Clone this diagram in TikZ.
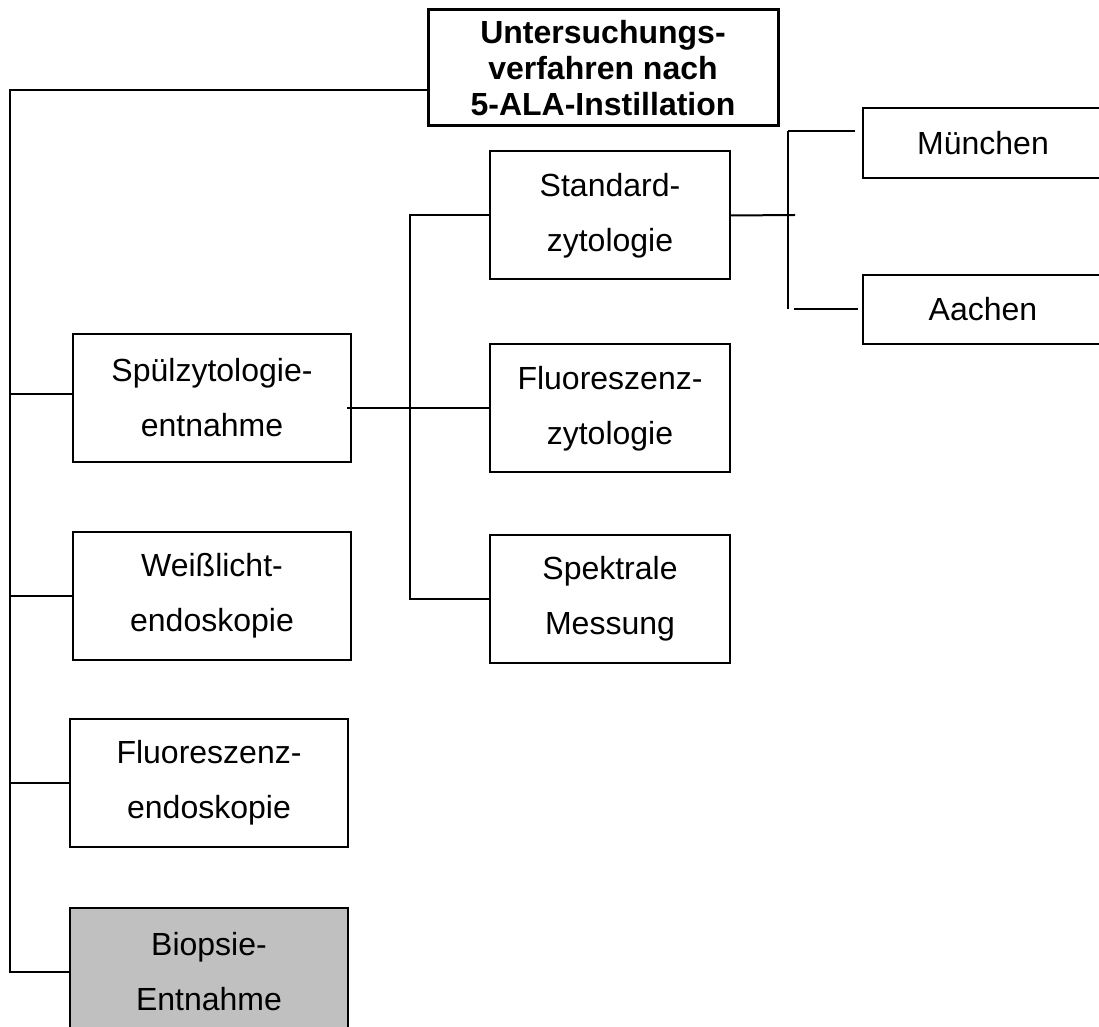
\documentclass[tikz,border=0pt]{standalone}
\usepackage{fontspec}
\setmainfont{Liberation Sans}
\usetikzlibrary{positioning}
\definecolor{biopsiegrau}{RGB}{192,192,192}

\begin{document}
\begin{tikzpicture}[x=0.5pt,y=-0.5pt,
  kasten/.style={draw,line width=1pt,align=center,inner sep=0pt,minimum width=139pt,minimum height=64pt,font=\fontsize{16}{27.5}\selectfont},
  ort/.style={kasten,minimum width=120pt,minimum height=35pt},
  linie/.style={draw,line width=1pt}]
\useasboundingbox (0,0) rectangle (1099,1027);
\node[kasten,line width=1.5pt,minimum width=175pt,minimum height=58pt,font=\bfseries\fontsize{16}{18}\selectfont] (titel) at (603,68) {Untersuchungs-\\verfahren nach\\5-ALA-Instillation};
% linke Spalte
\node[kasten] (spuel) at (212,398) {Spülzytologie-\\entnahme};
\node[kasten,below=34pt of spuel] (weiss) {Weißlicht-\\endoskopie};
\node[kasten,below=28.5pt of weiss,xshift=-1.5pt] (fluoendo) {Fluoreszenz-\\endoskopie};
\node[kasten,below=29.5pt of fluoendo,fill=biopsiegrau] (biopsie) {Biopsie-\\Entnahme};
% mittlere Spalte
\node[kasten,minimum width=120pt] (standard) at (610,215.5) {Standard-\\zytologie};
\node[kasten,minimum width=120pt,below=31.5pt of standard] (fluozyt) {Fluoreszenz-\\zytologie};
\node[kasten,minimum width=120pt,below=30pt of fluozyt] (spektral) {Spektrale\\Messung};
% rechte Spalte
\node[ort] (muenchen) at (983,143) {München};
\node[ort,minimum height=34.5pt] (aachen) at (983,309.5) {Aachen};
% Verbindungen
\coordinate (stamm) at (10,90);
\path[linie] ([yshift=-11pt]titel.west) -- (stamm) |- (biopsie.west);
\path[linie] ([yshift=2pt]stamm |- spuel.west) -- ([yshift=2pt]spuel.west);
\path[linie] (stamm |- weiss.west) -- (weiss.west);
\path[linie] (stamm |- fluoendo.west) -- (fluoendo.west);
\coordinate (mitte) at (410,407);
\path[linie] ([xshift=-2.5pt]spuel.east |- fluozyt.west) -- (fluozyt.west);
\path[linie] (standard.west) -| (mitte |- spektral.west) -- (spektral.west);
\coordinate (gabel) at (788,215);
\coordinate (gabeloben) at (788,131);
\path[linie] (standard.east) -- ([xshift=3.5pt]gabel);
\path[linie] (gabeloben) -- (gabel |- aachen.west);
\path[linie] (gabeloben) -- ([xshift=-3.5pt]gabeloben -| muenchen.west);
\path[linie] ([xshift=3pt]gabel |- aachen.west) -- ([xshift=-2pt]aachen.west);
\end{tikzpicture}
\end{document}
